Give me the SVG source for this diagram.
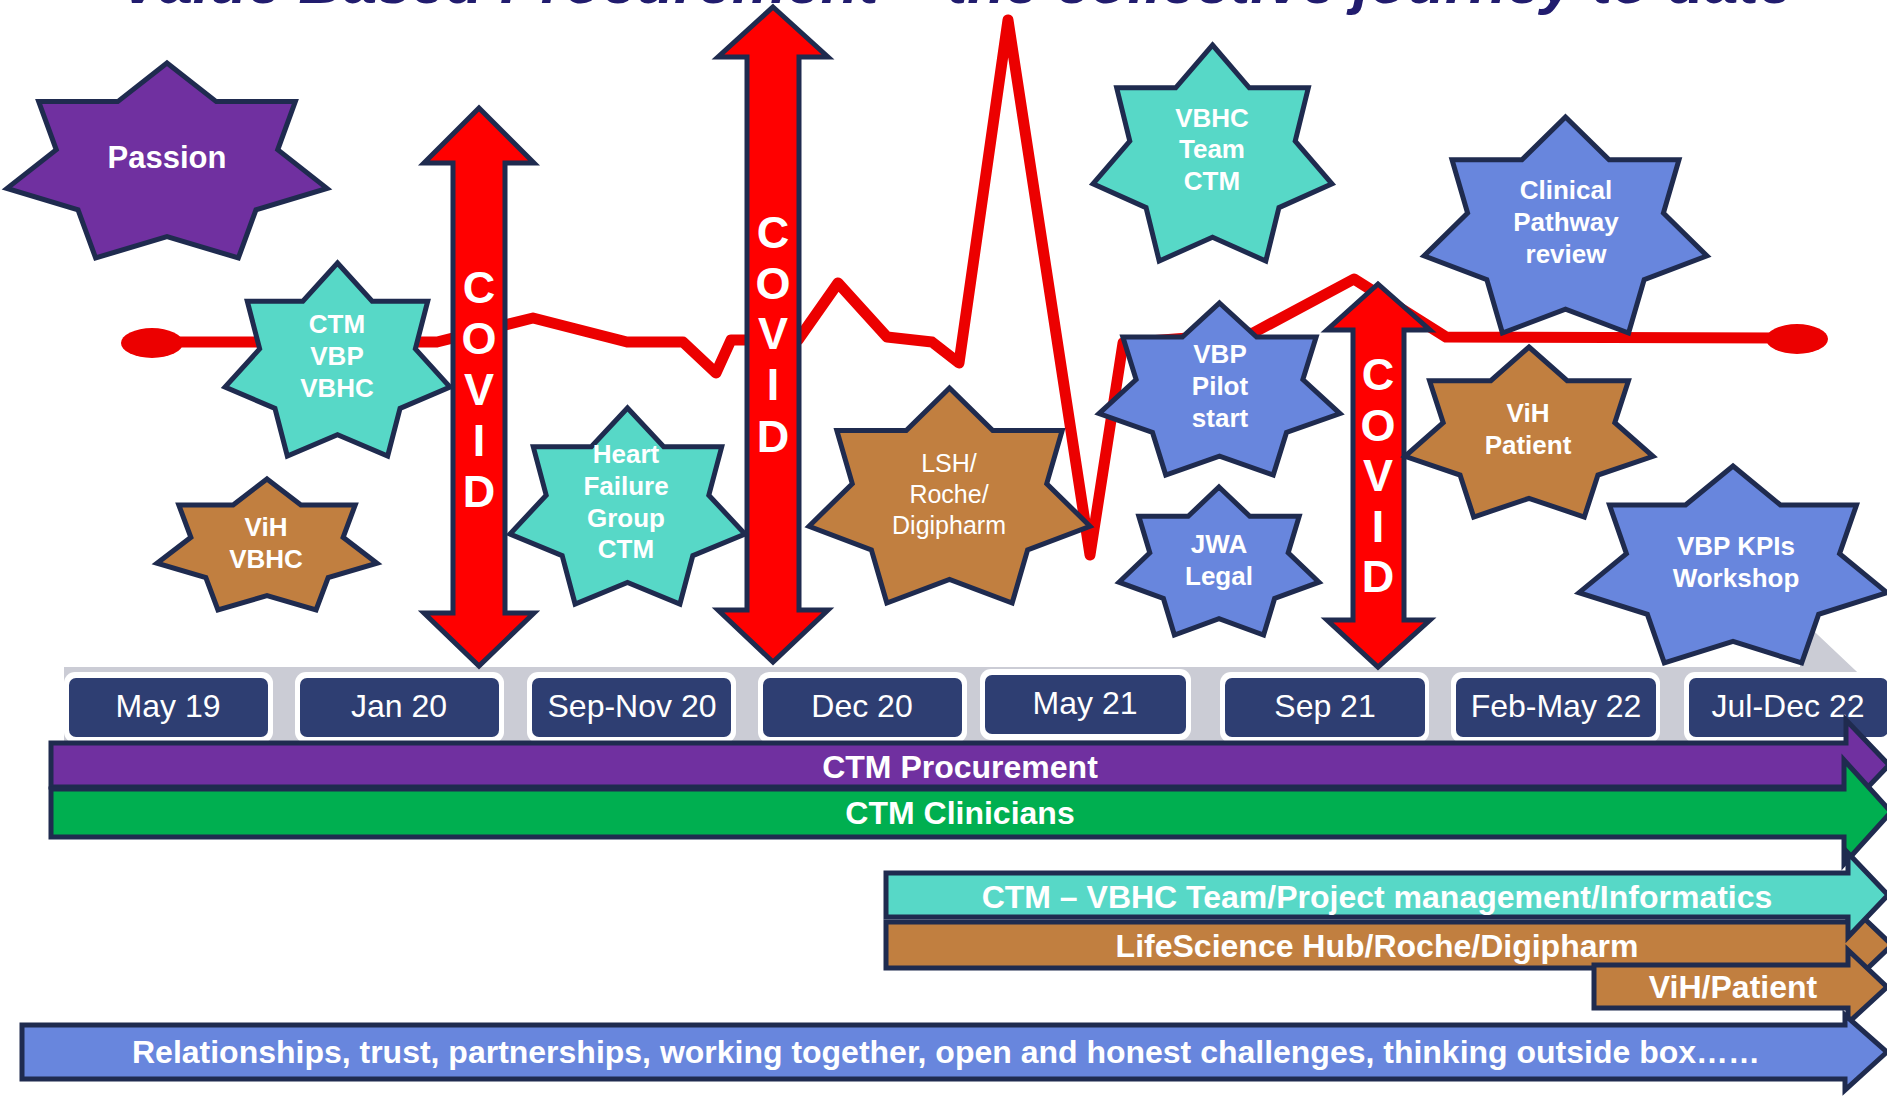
<svg xmlns="http://www.w3.org/2000/svg" width="1887" height="1100" viewBox="0 0 1887 1100">
<style>
.st{stroke:#1F2B4F;stroke-width:5;stroke-linejoin:miter;vector-effect:non-scaling-stroke}
.teal{fill:#57D8C7}.blue{fill:#6886DD}.brown{fill:#C17F40}.purple{fill:#7030A0}.green{fill:#00AF50}.red{fill:#FF0000}
.t{font-family:"Liberation Sans",Arial,sans-serif;fill:#FFFFFF;text-anchor:middle}
.b{font-weight:bold}
.s26{font-size:26px}
.cov{font-size:45px;font-weight:bold}
.date{font-size:32px}
.bar{font-size:32px;font-weight:bold}
.ecg{fill:none;stroke:#EC0000;stroke-width:11;stroke-linejoin:round;stroke-linecap:round}
</style>
<rect x="0" y="0" width="1887" height="1100" fill="#FFFFFF"/>
<g id="title">
<text x="120" y="3" font-family="Liberation Sans, Arial, sans-serif" font-size="60" font-weight="bold" font-style="italic" fill="#211C6E" textLength="1673" lengthAdjust="spacingAndGlyphs">Value Based Procurement – the collective journey to date</text>
</g>
<g id="timeline-band">
<polygon points="64,667 1800,667 1800,618 1892,705 1800,792 1800,742 64,742" fill="#CBCCD5"/>
</g>
<g id="dates">
<g id="d-may19"><rect x="64" y="672" width="209" height="71" rx="11" fill="#FFFFFF"/><rect x="69" y="678" width="199" height="59" rx="7" fill="#2E3E72"/><text class="t date" x="168" y="717">May 19</text></g>
<g id="d-jan20"><rect x="295" y="672" width="209" height="71" rx="11" fill="#FFFFFF"/><rect x="300" y="678" width="199" height="59" rx="7" fill="#2E3E72"/><text class="t date" x="399" y="717">Jan 20</text></g>
<g id="d-sepnov20"><rect x="527" y="672" width="209" height="71" rx="11" fill="#FFFFFF"/><rect x="532" y="678" width="199" height="59" rx="7" fill="#2E3E72"/><text class="t date" x="632" y="717">Sep-Nov 20</text></g>
<g id="d-dec20"><rect x="758" y="672" width="209" height="71" rx="11" fill="#FFFFFF"/><rect x="763" y="678" width="199" height="59" rx="7" fill="#2E3E72"/><text class="t date" x="862" y="717">Dec 20</text></g>
<g id="d-may21"><rect x="980" y="669" width="211" height="71" rx="11" fill="#FFFFFF"/><rect x="985" y="675" width="201" height="59" rx="7" fill="#2E3E72"/><text class="t date" x="1085" y="714">May 21</text></g>
<g id="d-sep21"><rect x="1220" y="672" width="209" height="71" rx="11" fill="#FFFFFF"/><rect x="1225" y="678" width="200" height="59" rx="7" fill="#2E3E72"/><text class="t date" x="1325" y="717">Sep 21</text></g>
<g id="d-febmay22"><rect x="1451" y="672" width="209" height="71" rx="11" fill="#FFFFFF"/><rect x="1456" y="678" width="200" height="59" rx="7" fill="#2E3E72"/><text class="t date" x="1556" y="717">Feb-May 22</text></g>
<g id="d-juldec22"><rect x="1684" y="672" width="209" height="71" rx="11" fill="#FFFFFF"/><rect x="1689" y="678" width="199" height="59" rx="7" fill="#2E3E72"/><text class="t date" x="1788" y="717">Jul-Dec 22</text></g>
</g>
<g id="connectors">
<path class="ecg" d="M152,342 L437,342 L533,318 L627,342 L683,342 L716,373 L731,340 L798,340 L838,283 L887,337 L932,342 L959,363 L1008,20 L1090,555 L1123,343 L1253,333 L1354,279 L1446,337 L1797,338"/>
<ellipse cx="152" cy="343" rx="31" ry="15" fill="#EC0000"/>
<ellipse cx="1797" cy="339" rx="31" ry="15" fill="#EC0000"/>
</g>
<g id="covid-1">
<polygon class="st red" points="479,108 534,163 505,163 505,613 534,613 479,666 424,613 453,613 453,163 424,163"/>
<text class="t cov" x="479" y="303">C</text><text class="t cov" x="479" y="354">O</text><text class="t cov" x="479" y="405">V</text><text class="t cov" x="479" y="456">I</text><text class="t cov" x="479" y="507">D</text>
</g>
<g id="covid-2">
<polygon class="st red" points="773,7 828,57 799,57 799,610 828,610 773,662 718,610 747,610 747,57 718,57"/>
<text class="t cov" x="773" y="248">C</text><text class="t cov" x="773" y="299">O</text><text class="t cov" x="773" y="349">V</text><text class="t cov" x="773" y="400">I</text><text class="t cov" x="773" y="452">D</text>
</g>
<g id="covid-3">
<polygon class="st red" points="1378,284 1430,330 1404,330 1404,620 1430,620 1378,667 1327,620 1353,620 1353,330 1327,330"/>
<text class="t cov" x="1378" y="390">C</text><text class="t cov" x="1378" y="441">O</text><text class="t cov" x="1378" y="491">V</text><text class="t cov" x="1378" y="542">I</text><text class="t cov" x="1378" y="592">D</text>
</g>
<g id="star-passion">
<polygon class="st purple" vector-effect="non-scaling-stroke" transform="translate(7 63) scale(0.32 0.195)" points="500,0 654,198 901,198 846,445 1000,643 778,753 723,1000 500,890 277,1000 222,753 0,643 154,445 99,198 346,198"/>
<text class="t b" x="167" y="168" font-size="31">Passion</text>
</g>
<g id="star-ctm-vbp-vbhc">
<polygon class="st teal" vector-effect="non-scaling-stroke" transform="translate(225 263) scale(0.225 0.193)" points="500,0 654,198 901,198 846,445 1000,643 778,753 723,1000 500,890 277,1000 222,753 0,643 154,445 99,198 346,198"/>
<text class="t b s26" x="337" y="333">CTM</text><text class="t b s26" x="337" y="365">VBP</text><text class="t b s26" x="337" y="397">VBHC</text>
</g>
<g id="star-vih-vbhc">
<polygon class="st brown" vector-effect="non-scaling-stroke" transform="translate(157 479) scale(0.22 0.131)" points="500,0 654,198 901,198 846,445 1000,643 778,753 723,1000 500,890 277,1000 222,753 0,643 154,445 99,198 346,198"/>
<text class="t b s26" x="266" y="536">ViH</text><text class="t b s26" x="266" y="568">VBHC</text>
</g>
<g id="star-heart-failure">
<polygon class="st teal" vector-effect="non-scaling-stroke" transform="translate(510 408) scale(0.235 0.196)" points="500,0 654,198 901,198 846,445 1000,643 778,753 723,1000 500,890 277,1000 222,753 0,643 154,445 99,198 346,198"/>
<text class="t b s26" x="626" y="463">Heart</text><text class="t b s26" x="626" y="495">Failure</text><text class="t b s26" x="626" y="527">Group</text><text class="t b s26" x="626" y="558">CTM</text>
</g>
<g id="star-lsh">
<polygon class="st brown" vector-effect="non-scaling-stroke" transform="translate(809 388) scale(0.281 0.215)" points="500,0 654,198 901,198 846,445 1000,643 778,753 723,1000 500,890 277,1000 222,753 0,643 154,445 99,198 346,198"/>
<text class="t" x="949" y="472" font-size="25">LSH/</text><text class="t" x="949" y="503" font-size="25">Roche/</text><text class="t" x="949" y="534" font-size="25">Digipharm</text>
</g>
<g id="star-vbhc-team">
<polygon class="st teal" vector-effect="non-scaling-stroke" transform="translate(1093 45) scale(0.239 0.216)" points="500,0 654,198 901,198 846,445 1000,643 778,753 723,1000 500,890 277,1000 222,753 0,643 154,445 99,198 346,198"/>
<text class="t b s26" x="1212" y="127">VBHC</text><text class="t b s26" x="1212" y="158">Team</text><text class="t b s26" x="1212" y="190">CTM</text>
</g>
<g id="star-clinical-pathway">
<polygon class="st blue" vector-effect="non-scaling-stroke" transform="translate(1424 117) scale(0.283 0.216)" points="500,0 654,198 901,198 846,445 1000,643 778,753 723,1000 500,890 277,1000 222,753 0,643 154,445 99,198 346,198"/>
<text class="t b s26" x="1566" y="199">Clinical</text><text class="t b s26" x="1566" y="231">Pathway</text><text class="t b s26" x="1566" y="263">review</text>
</g>
<g id="star-vbp-pilot">
<polygon class="st blue" vector-effect="non-scaling-stroke" transform="translate(1099 303) scale(0.241 0.172)" points="500,0 654,198 901,198 846,445 1000,643 778,753 723,1000 500,890 277,1000 222,753 0,643 154,445 99,198 346,198"/>
<text class="t b s26" x="1220" y="363">VBP</text><text class="t b s26" x="1220" y="395">Pilot</text><text class="t b s26" x="1220" y="427">start</text>
</g>
<g id="star-jwa-legal">
<polygon class="st blue" vector-effect="non-scaling-stroke" transform="translate(1119 487) scale(0.2 0.148)" points="500,0 654,198 901,198 846,445 1000,643 778,753 723,1000 500,890 277,1000 222,753 0,643 154,445 99,198 346,198"/>
<text class="t b s26" x="1219" y="553">JWA</text><text class="t b s26" x="1219" y="585">Legal</text>
</g>
<g id="star-vih-patient">
<polygon class="st brown" vector-effect="non-scaling-stroke" transform="translate(1405 347) scale(0.248 0.17)" points="500,0 654,198 901,198 846,445 1000,643 778,753 723,1000 500,890 277,1000 222,753 0,643 154,445 99,198 346,198"/>
<text class="t b s26" x="1528" y="422">ViH</text><text class="t b s26" x="1528" y="454">Patient</text>
</g>
<g id="star-vbp-kpis">
<polygon class="st blue" vector-effect="non-scaling-stroke" transform="translate(1579 466) scale(0.308 0.197)" points="500,0 654,198 901,198 846,445 1000,643 778,753 723,1000 500,890 277,1000 222,753 0,643 154,445 99,198 346,198"/>
<text class="t b s26" x="1736" y="555">VBP KPIs</text><text class="t b s26" x="1736" y="587">Workshop</text>
</g>
<g id="bar-procurement">
<polygon class="st purple" points="51,743 1846,743 1846,720 1889,765 1846,810 1846,787 51,787"/>
<text class="t bar" x="960" y="778">CTM Procurement</text>
</g>
<g id="bar-clinicians">
<polygon class="st green" points="51,789 1844,789 1844,760 1891,812 1844,864 1844,837 51,837"/>
<text class="t bar" x="960" y="824">CTM Clinicians</text>
</g>
<g id="bar-lifescience">
<polygon class="st brown" points="886,922 1848,922 1848,903 1892,945 1848,987 1848,968 886,968"/>
<text class="t bar" x="1377" y="957">LifeScience Hub/Roche/Digipharm</text>
</g>
<g id="bar-vbhc-team">
<polygon class="st teal" points="886,873 1848,873 1848,853 1888,895 1848,937 1848,917 886,917"/>
<text class="t bar" x="1377" y="908">CTM – VBHC Team/Project management/Informatics</text>
</g>
<g id="bar-vih-patient">
<polygon class="st brown" points="1594,965 1848,965 1848,950 1887,987 1848,1023 1848,1008 1594,1008"/>
<text class="t bar" x="1733" y="998">ViH/Patient</text>
</g>
<g id="bar-relationships">
<polygon class="st blue" points="22,1025 1845,1025 1845,1015 1887,1052 1845,1090 1845,1079 22,1079"/>
<text class="t bar" x="946" y="1063" textLength="1628">Relationships, trust, partnerships, working together, open and honest challenges, thinking outside box……</text>
</g>
</svg>
